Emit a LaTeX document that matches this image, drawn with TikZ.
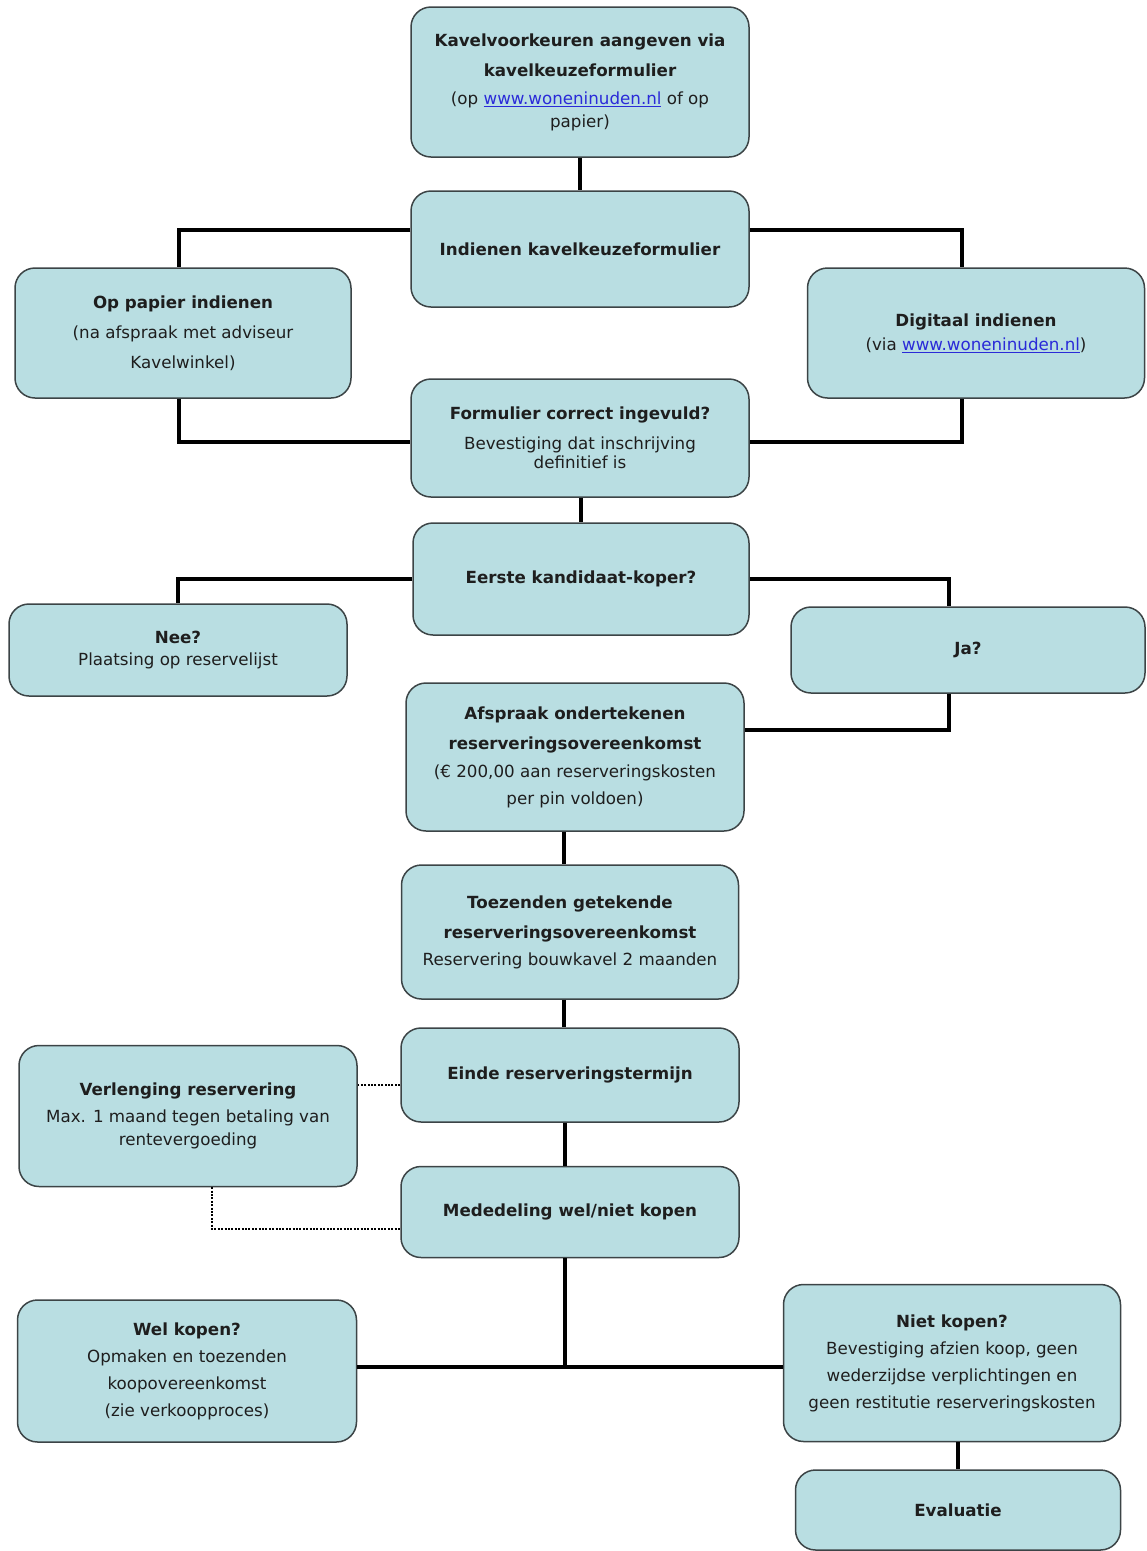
\documentclass[tikz,border=0pt]{standalone}
\usepackage{fontspec}
\setmainfont{DejaVu Sans}
\usepackage{tikz}
\usetikzlibrary{calc}
\usepackage{xcolor}
\definecolor{BoxTeal}{HTML}{B9DEE2}
\definecolor{BoxBorder}{HTML}{3C4446}
\definecolor{BoxText}{HTML}{1E1E1E}
\definecolor{LinkBlue}{HTML}{2A2AD8}

\begin{document}
\begin{tikzpicture}[x=1pt, y=-1pt,
    box/.style={draw=BoxBorder, fill=BoxTeal, line width=1.5pt, rounded corners=20pt, text=BoxText, font=\fontsize{16.7}{27}\selectfont, align=center, inner sep=0pt},
    link/.style={draw=black, line width=4pt},
    dotlink/.style={draw=black, line width=2pt, dash pattern=on 2pt off 1.4pt}
  ]
    \useasboundingbox (0,0) rectangle (1147,1551);

    % Inschrijving
    \node[box, minimum width=338pt, minimum height=150pt] (kavel) at (580,82) {\textbf{Kavelvoorkeuren aangeven via}\\[3pt] \textbf{kavelkeuzeformulier}\\[1pt] (op \textcolor{LinkBlue}{\underline{www.woneninuden.nl}} of op\\[-4pt] papier)};
    \node[box, minimum width=338pt, minimum height=116pt] (indienen) at (580,249) {\textbf{Indienen kavelkeuzeformulier}};
    \node[box, minimum width=336pt, minimum height=130pt] (papier) at (183,333) {\textbf{Op papier indienen}\\[3pt] (na afspraak met adviseur\\[3pt] Kavelwinkel)};
    \node[box, minimum width=337pt, minimum height=130pt] (digitaal) at (976,333) {\textbf{Digitaal indienen}\\[-3pt] (via \textcolor{LinkBlue}{\underline{www.woneninuden.nl}})};
    \node[box, minimum width=338pt, minimum height=118pt] (formulier) at (580,438) {\textbf{Formulier correct ingevuld?}\\[3pt] Bevestiging dat inschrijving\\[-8pt] definitief is};

    % Reservering
    \node[box, minimum width=336pt, minimum height=112pt] (eerste) at (581,579) {\textbf{Eerste kandidaat-koper?}};
    \node[box, minimum width=338pt, minimum height=92pt] (nee) at (178,650) {\textbf{Nee?}\\[-5pt] Plaatsing op reservelijst};
    \node[box, minimum width=354pt, minimum height=86pt] (ja) at (968,650) {\textbf{Ja?}};
    \node[box, minimum width=338pt, minimum height=148pt] (afspraak) at (575,757) {\textbf{Afspraak ondertekenen}\\[3pt] \textbf{reserveringsovereenkomst}\\[1pt] (€ 200,00 aan reserveringskosten\\ per pin voldoen)};
    \node[box, minimum width=337pt, minimum height=134pt] (toezenden) at (570,932) {\textbf{Toezenden getekende}\\[3pt] \textbf{reserveringsovereenkomst}\\ Reservering bouwkavel 2 maanden};
    \node[box, minimum width=338pt, minimum height=94pt] (einde) at (570,1075) {\textbf{Einde reserveringstermijn}};
    \node[box, minimum width=338pt, minimum height=141pt] (verlenging) at (188,1116) {\textbf{Verlenging reservering}\\ Max. 1 maand tegen betaling van\\[-4pt] rentevergoeding};
    \node[box, minimum width=338pt, minimum height=91pt] (mededeling) at (570,1212) {\textbf{Mededeling wel/niet kopen}};

    % Afronding
    \node[box, minimum width=339pt, minimum height=142pt] (wel) at (187,1371) {\textbf{Wel kopen?}\\ Opmaken en toezenden\\ koopovereenkomst\\ (zie verkoopproces)};
    \node[box, minimum width=337pt, minimum height=157pt] (niet) at (952,1363) {\textbf{Niet kopen?}\\ Bevestiging afzien koop, geen\\ wederzijdse verplichtingen en\\ geen restitutie reserveringskosten};
    \node[box, minimum width=325pt, minimum height=80pt] (evaluatie) at (958,1510) {\textbf{Evaluatie}};

    % Verbindingen
    \draw[link] (kavel) -- (indienen);
    \draw[link] ([yshift=19pt]indienen.west) -| ([xshift=-4pt]papier.north);
    \draw[link] ([yshift=19pt]indienen.east) -| ([xshift=-14pt]digitaal.north);
    \draw[link] ([xshift=-4pt]papier.south) |- ([yshift=-4pt]formulier.west);
    \draw[link] ([xshift=-14pt]digitaal.south) |- ([yshift=-4pt]formulier.east);
    \draw[link] (eerste.north |- formulier.south) -- (eerste.north);
    \draw[link] (eerste.west) -| (nee.north);
    \draw[link] (eerste.east) -| ([xshift=-19pt]ja.north);
    \draw[link] ([xshift=-19pt]ja.south) |- ([yshift=27pt]afspraak.east);
    \draw[link] ([xshift=-6pt]toezenden.north |- afspraak.south) -- ([xshift=-6pt]toezenden.north);
    \draw[link] ([xshift=-6pt]toezenden.south) -- ([xshift=-6pt]einde.north);
    \draw[link] ([xshift=-5pt]einde.south) -- ([xshift=-5pt]mededeling.north);
    \coordinate (split) at ([xshift=-5pt, yshift=4pt]mededeling.south |- wel.east);
    \draw[link] ([xshift=-5pt]mededeling.south) -- (split);
    \draw[link] ([yshift=4pt]wel.east) -- ([yshift=4pt]wel.east -| niet.west);
    \draw[link] (evaluatie.north |- niet.south) -- (evaluatie.north);
    \draw[dotlink] ([yshift=-10pt]einde.west) -- ([yshift=-10pt]einde.west -| verlenging.east);
    \draw[dotlink] ([xshift=24pt]verlenging.south) |- ([yshift=-17pt]mededeling.west);
\end{tikzpicture}
\end{document}
